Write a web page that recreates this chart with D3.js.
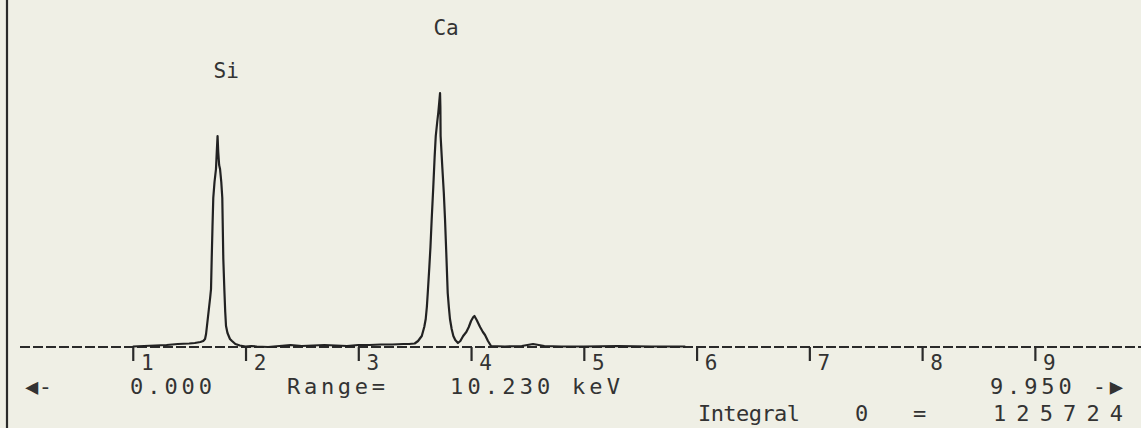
<!DOCTYPE html>
<html>
<head>
<meta charset="utf-8">
<script src="https://cdn.jsdelivr.net/npm/d3@7"></script>
<style>
  html, body { margin: 0; padding: 0; background: #efefe5; }
  svg { display: block; }
  text { font-family: "DejaVu Sans Mono", monospace; fill: #333; }
</style>
</head>
<body>
<script>
// ---------- data ----------
// energy in keV
const energy = [
  1.00, 1.10, 1.20, 1.30, 1.40, 1.50, 1.55, 1.60, 1.625, 1.641, 1.65, 1.658, 1.675, 1.687, 1.694,
  1.700, 1.707, 1.714, 1.725, 1.738, 1.745, 1.752, 1.758, 1.766, 1.774, 1.785, 1.794, 1.803, 1.812,
  1.820, 1.827, 1.840, 1.862, 1.880, 1.910, 1.950, 2.00, 2.05, 2.10, 2.20, 2.30, 2.40, 2.50, 2.60,
  2.70, 2.80, 2.90, 3.00, 3.10, 3.20, 3.30, 3.40, 3.45, 3.50, 3.53, 3.563, 3.585, 3.598, 3.608,
  3.616, 3.630, 3.640, 3.651, 3.665, 3.677, 3.687, 3.700, 3.710, 3.718, 3.725, 3.728, 3.730, 3.745,
  3.758, 3.769, 3.780, 3.793, 3.803, 3.813, 3.828, 3.843, 3.860, 3.884, 3.905, 3.930, 3.958, 3.980,
  4.000, 4.020, 4.030, 4.050, 4.080, 4.105, 4.124, 4.150, 4.177, 4.30, 4.45, 4.55, 4.65, 4.80,
  5.00, 5.30, 5.60, 5.90
];
// counts (arbitrary units)
const counts = [
  0.5, 1, 1.5, 2, 3, 3.5, 4, 5, 6, 8, 13, 21, 38, 50, 58,
  88, 120, 149, 165, 178, 195, 211, 195, 182, 178, 165, 149, 88, 58,
  35, 21, 14, 8, 6, 3, 1.5, 0.5, 1, 0.5, 0, 1, 2, 1, 1.5,
  2, 1.5, 1, 2, 2, 2.5, 2.5, 3, 3, 3.5, 6, 11, 20, 28, 40,
  54, 80, 100, 128, 160, 190, 211, 225, 235, 245, 254, 240, 211, 180,
  155, 128, 95, 54, 40, 28, 18, 11, 7, 4, 6, 11, 15, 20,
  26, 30, 31, 27, 20, 15, 12, 6, 1, 0.5, 1, 3, 1, 0.5,
  0.5, 1, 0.5, 0.5
];
const tickValues = [1, 2, 3, 4, 5, 6, 7, 8, 9];
const peakLabels = ["Si", "Ca"];
const peakEnergies = [1.74, 3.69];
const rangeStart = 0.000;
const rangeEnd = 9.950;
const rangeWidth = 10.230;
const integralValue = 125724;

// ---------- layout ----------
const W = 1141, H = 428;
const baseY = 347;
const svg = d3.select("body").append("svg").attr("width", W).attr("height", H);

svg.append("rect").attr("width", W).attr("height", H).attr("fill", "#efefe5");

const x = d3.scaleLinear().domain([rangeStart, rangeEnd]).range([20, 1142]);
const y = d3.scaleLinear().domain([0, 300]).range([baseY, baseY - 300]);

// left frame line
svg.append("line").attr("x1", 7).attr("x2", 7).attr("y1", 0).attr("y2", H)
  .attr("stroke", "#2a2a2a").attr("stroke-width", 2.2);

// dashed baseline
svg.append("line").attr("x1", x(rangeStart)).attr("x2", W).attr("y1", baseY).attr("y2", baseY)
  .attr("stroke", "#2a2a2a").attr("stroke-width", 1.8).attr("stroke-dasharray", "10,3");

// axis ticks
const axis = d3.axisBottom(x).tickValues(tickValues).tickSizeInner(14).tickSizeOuter(0)
  .tickFormat(d3.format("d"));
const gAxis = svg.append("g").attr("transform", `translate(0,${baseY})`).call(axis);
gAxis.select(".domain").remove();
gAxis.selectAll(".tick line").attr("stroke", "#2a2a2a").attr("stroke-width", 2.2);
gAxis.selectAll(".tick text")
  .attr("x", 14).attr("y", 23).attr("dy", null)
  .attr("font-size", 21).attr("font-family", "DejaVu Sans Mono").attr("fill", "#333");

// spectrum
const pts = energy.map((e, i) => [e, counts[i]]);
const line = d3.line().x(d => x(d[0])).y(d => y(d[1]));
svg.append("path").datum(pts).attr("d", line)
  .attr("fill", "none").attr("stroke", "#222").attr("stroke-width", 2.2).attr("stroke-linejoin", "round");

// peak labels
peakLabels.forEach((lab, i) => {
  const e = peakEnergies[i];
  const near = pts.filter(p => Math.abs(p[0] - e) < 0.1);
  const top = d3.max(near, p => p[1]);
  svg.append("text").attr("x", x(e) + 10).attr("y", y(top) - 58)
    .attr("text-anchor", "middle").attr("font-size", 21).text(lab);
});

// status lines
function txt(str, x0, yb, width) {
  const t = svg.append("text").attr("x", x0).attr("y", yb).attr("font-size", 22).text(str);
  if (width) t.attr("textLength", width).attr("lengthAdjust", "spacing");
  return t;
}
const f3 = d3.format(".3f");
txt("\u25C0-", 25, 394, 27);
txt(f3(rangeStart), 130, 394, 82);
txt("Range=", 287, 394, 98);
txt(f3(rangeWidth) + " keV", 450, 394, 170);
txt(f3(rangeEnd) + " -\u25B6", 990, 394, 133);
txt("Integral", 698, 421, 102);
txt("0", 855, 421);
txt("=", 913, 421);
txt(String(integralValue), 993, 421, 130);
</script>
</body>
</html>
